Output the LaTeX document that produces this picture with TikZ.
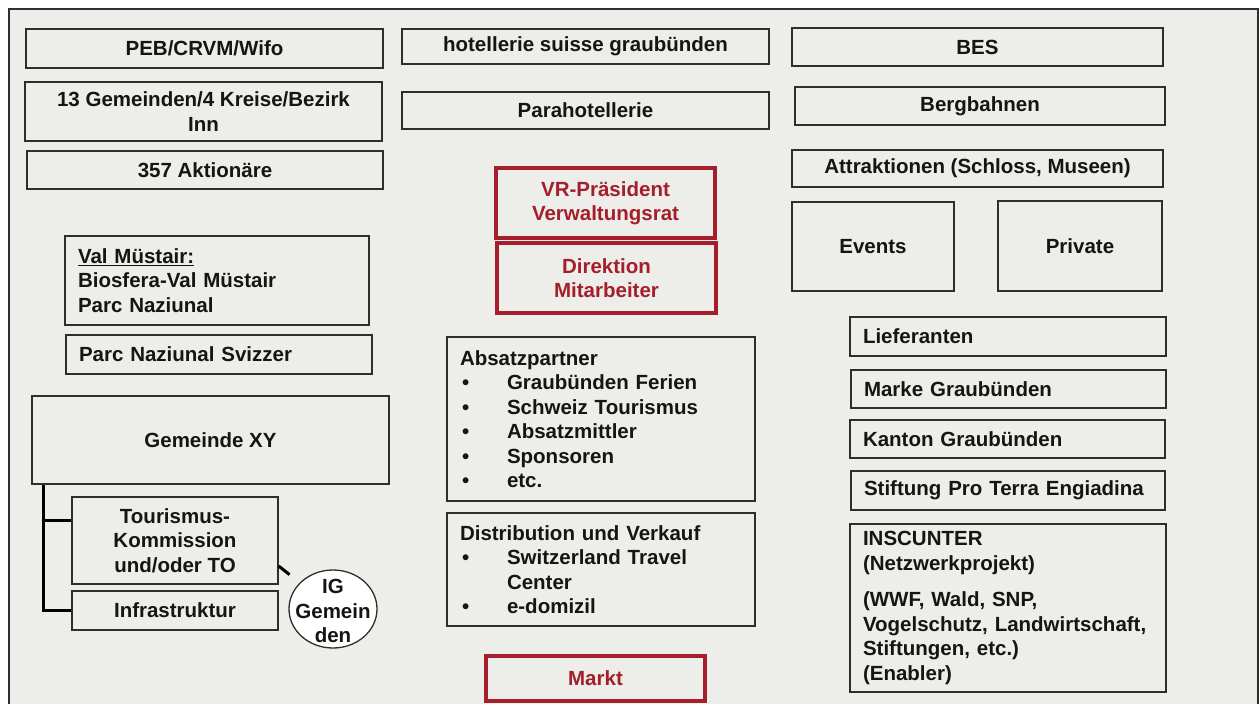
\documentclass[tikz,border=0pt]{standalone}
\usepackage{fontspec}
\setmainfont{Liberation Sans}
\usetikzlibrary{shapes.geometric,calc}
\definecolor{bgc}{HTML}{EDEDE9}
\definecolor{lc}{HTML}{2E2E2E}
\definecolor{rc}{HTML}{A51E2B}
\definecolor{tc}{HTML}{151515}
\newcommand\boxfont{\fontsize{20.5}{24.5}\selectfont\bfseries}
\newcommand\bul{\makebox[47pt][l]{\hspace{2pt}\textbullet}}
\begin{document}
\begin{tikzpicture}[x=1pt,y=-1pt,
  box/.style={draw=lc, fill=bgc, line width=1.3pt, rectangle, inner sep=0pt, font=\boxfont, align=center, text=tc},
  lbox/.style={box, align=left, inner xsep=13pt},
  rbox/.style={box, draw=rc, line width=3.5pt, text=rc},
  conn/.style={line width=3pt, draw=black, line join=miter},
]
\useasboundingbox (0,0) rectangle (1259,704);
\fill[white] (0,0) rectangle (1259,704);
\draw[line width=1.8pt, draw=lc, fill=bgc] (9,9) rectangle (1258,712);

% left column
\node[box, minimum width=357, minimum height=39] (peb) at (204.5,48.5) {PEB/CRVM/Wifo};
\node[box, minimum width=357, minimum height=59] (gem13) at (203.5,111.5) {13 Gemeinden/4 Kreise/Bezirk\\Inn};
\node[box, minimum width=356, minimum height=38] (akt) at (205,170) {357 Aktionäre};
\node[lbox, text width=278, minimum height=89] (val) at (217,280.5) {\underline{Val Müstair:}\\Biosfera-Val Müstair\\Parc Naziunal};
\node[lbox, text width=280, minimum height=39] (svizzer) at (219,354.5) {Parc Naziunal Svizzer};
\node[box, minimum width=357, minimum height=88] (gemxy) at (210.5,440) {Gemeinde XY};
\node[box, minimum width=206, minimum height=87] (tour) at (175,540.5) {Tourismus-\\Kommission\\und/oder TO};
\node[box, minimum width=206, minimum height=39] (infra) at (175,610.5) {Infrastruktur};
\node[draw=lc, line width=1.3pt, fill=white, ellipse, inner sep=0pt, minimum width=88, minimum height=78] (ig) at (333,609) {};
\node[font=\boxfont, align=center, text=tc, inner sep=0pt] (igtext) at (333,611) {IG\\Gemein\\den};

% middle column
\node[box, minimum width=367, minimum height=35] (hotel) at (585.5,46.5) {hotellerie suisse graubünden};
\node[box, minimum width=367, minimum height=37] (para) at (585.5,110.5) {Parahotellerie};
\node[rbox, minimum width=219, minimum height=70] (vr) at (605.5,203) {VR-Präsident\\Verwaltungsrat};
\node[rbox, minimum width=219, minimum height=70] (dir) at (606.5,278) {Direktion\\Mitarbeiter};
\node[lbox, text width=282, minimum height=164] (absatz) at (601,419) {Absatzpartner\\\bul Graubünden Ferien\\\bul Schweiz Tourismus\\\bul Absatzmittler\\\bul Sponsoren\\\bul etc.};
\node[lbox, text width=282, minimum height=113] (distr) at (601,569.5) {Distribution und Verkauf\\\bul Switzerland Travel\\\hspace*{47pt}Center\\\bul e-domizil};
\node[rbox, minimum width=219, minimum height=45] (markt) at (595.5,678.5) {Markt};

% right column
\node[box, minimum width=371, minimum height=38] (bes) at (977.5,47) {BES};
\node[box, minimum width=370, minimum height=38] (berg) at (980,106) {Bergbahnen};
\node[box, minimum width=371, minimum height=37] (attr) at (977.5,168.5) {Attraktionen (Schloss, Museen)};
\node[box, minimum width=162, minimum height=89] (events) at (873,246.5) {Events};
\node[box, minimum width=164, minimum height=90] (private) at (1080,246) {Private};
\node[lbox, text width=290, minimum height=39] (lief) at (1008,336.5) {Lieferanten};
\node[lbox, text width=289, minimum height=38] (marke) at (1008.5,389) {Marke Graubünden};
\node[lbox, text width=289, minimum height=38] (kanton) at (1007.5,439) {Kanton Graubünden};
\node[lbox, text width=288, minimum height=39] (stift) at (1008,490.5) {Stiftung Pro Terra Engiadina};
\node[lbox, text width=290, minimum height=168] (insc) at (1008,608) {INSCUNTER\\(Netzwerkprojekt)\\[12pt](WWF, Wald, SNP,\\Vogelschutz, Landwirtschaft,\\Stiftungen, etc.)\\(Enabler)};

% connectors
\coordinate (c0) at ([xshift=12pt]gemxy.south west);
\coordinate (t1) at ([yshift=20.5pt]tour.west);
\draw[conn] (c0) -- (c0 |- infra.west) -- (infra.west);
\draw[conn] (t1 -| c0) -- (t1);
\coordinate (t2) at ([yshift=-25.5pt]tour.east);
\coordinate (igtip) at ($(ig.center)!0.8!(t2)$);
\draw[conn] (t2) -- (igtip);
\end{tikzpicture}
\end{document}
